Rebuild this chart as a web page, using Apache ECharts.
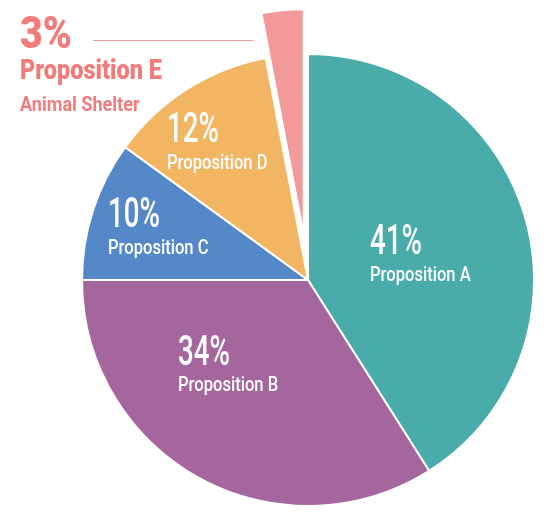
<!DOCTYPE html>
<html><head><meta charset="utf-8">
<script src="https://cdn.jsdelivr.net/npm/echarts@6/dist/echarts.min.js"></script>
<style>html,body{margin:0;padding:0;background:#fff}#c{width:553px;height:517px}</style>
</head><body><div id="c"></div>
<script>
const categories = ['Proposition A', 'Proposition B', 'Proposition C', 'Proposition D', 'Proposition E'];
const values = [41, 34, 10, 12, 3];
const subtitles = ['', '', '', '', 'Animal Shelter'];
const colors = ['#4aabab', '#a5669d', '#5488c8', '#f2b663', '#f29a9a'];

// label anchor positions (left, top of percent text; top of name text)
const labelPos = [[370, 222, 265], [178, 333, 375], [108, 195, 238], [167, 110, 153]];
const FONT = 'Roboto, "Noto Sans", sans-serif';

const chart = echarts.init(document.getElementById('c'), null, {renderer: 'canvas'});
const data = categories.map((name, i) => ({
  name, value: values[i], itemStyle: { color: colors[i] }, selected: i === 4
}));

const graphics = [];
labelPos.forEach((p, i) => {
  graphics.push({
    type: 'text', x: p[0], y: p[1], scaleX: 0.66, silent: true, z: 100,
    style: { text: values[i] + '%', fontSize: 42, fontWeight: 500, fontFamily: FONT, fill: '#fff', textAlign: 'left', textVerticalAlign: 'top' }
  });
  graphics.push({
    type: 'text', x: p[0], y: p[2], scaleX: 0.79, silent: true, z: 100,
    style: { text: categories[i], fontSize: 21, fontWeight: 500, fontFamily: FONT, fill: '#fff', textAlign: 'left', textVerticalAlign: 'top' }
  });
});
// Outside label for the exploded slice
const pink = '#f07c7c';
graphics.push(
  { type: 'text', x: 20, y: 14, scaleX: 0.87, silent: true, z: 100,
    style: { text: values[4] + '%', fontSize: 45, fontWeight: 900, fontFamily: FONT, fill: pink, textAlign: 'left', textVerticalAlign: 'top' } },
  { type: 'text', x: 20, y: 59, scaleX: 0.87, silent: true, z: 100,
    style: { text: categories[4], fontSize: 27, fontWeight: 900, fontFamily: FONT, fill: pink, textAlign: 'left', textVerticalAlign: 'top' } },
  { type: 'text', x: 20, y: 95, scaleX: 0.86, silent: true, z: 100,
    style: { text: subtitles[4], fontSize: 21, fontWeight: 'bold', fontFamily: FONT, fill: pink, textAlign: 'left', textVerticalAlign: 'top' } },
  { type: 'line', silent: true, z: 100, shape: { x1: 93, y1: 40.5, x2: 253, y2: 40.5 },
    style: { stroke: '#f29a9a', lineWidth: 1 } }
);

chart.setOption({
  animation: false,
  backgroundColor: '#fff',
  series: [{
    type: 'pie',
    center: [308, 280],
    radius: 226,
    startAngle: 90,
    clockwise: true,
    selectedMode: 'single',
    selectedOffset: 45,
    itemStyle: { borderColor: '#fff', borderWidth: 2 },
    emphasis: { disabled: true },
    label: { show: false },
    labelLine: { show: false },
    data
  }],
  graphic: graphics
});
</script></body></html>
